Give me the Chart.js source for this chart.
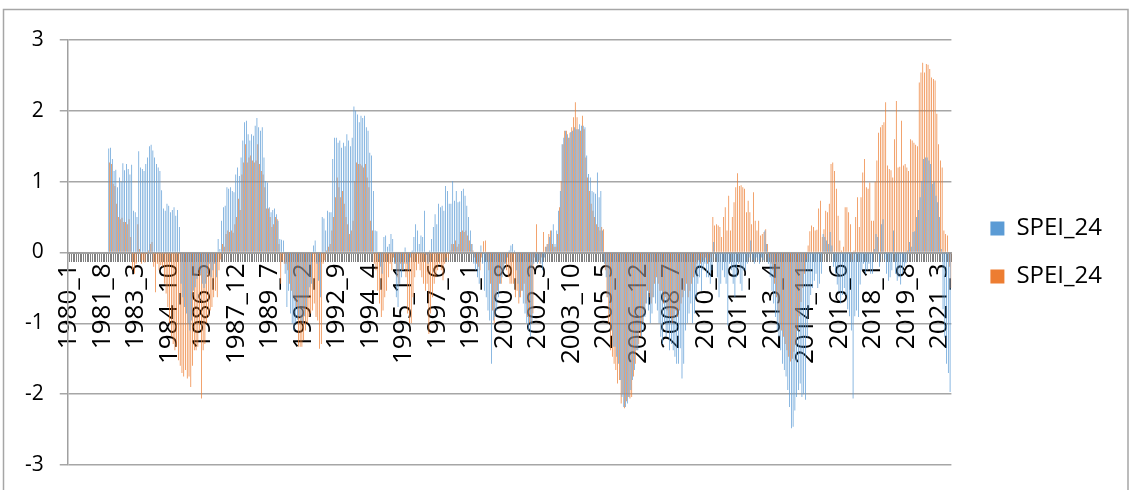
<!DOCTYPE html>
<html>
<head>
<meta charset="utf-8">
<script src="https://cdn.jsdelivr.net/npm/chart.js@4.4.1/dist/chart.umd.min.js"></script>
<style>
  html, body { margin: 0; padding: 0; background: #fff; }
  canvas { display: block; }
</style>
</head>
<body>
<canvas id="chart" width="1129" height="490"></canvas>
<script>
// monthly categories 1980_1 .. 2021_9
const firstYear = 1980;
const monthCount = 501;
const categories = [];
for (let i = 0; i < monthCount; i++) {
    categories.push((firstYear + Math.floor(i / 12)) + '_' + (i % 12 + 1));
}

// labels that are printed under the axis
const tickLabels = ['1980_1', '1981_8', '1983_3', '1984_10', '1986_5', '1987_12', '1989_7',
    '1991_2', '1992_9', '1994_4', '1995_11', '1997_6', '1999_1', '2000_8', '2002_3',
    '2003_10', '2005_5', '2006_12', '2008_7', '2010_2', '2011_9', '2013_4', '2014_11',
    '2016_6', '2018_1', '2019_8', '2021_3'];

const yTicks = [-3, -2, -1, 0, 1, 2, 3];

// first SPEI_24 series (blue), one row per year
const speiBlue = [
    null, null, null, null, null, null, null, null, null, null, null, null,
    null, null, null, null, null, null, null, null, null, null, null, 1.47,
    1.48, 1.32, 1.15, 1.17, 0.92, 1.06, 1.0, 1.26, 1.16, 1.25, 1.18, 1.1,
    1.24, 0.59, 0.57, 0.5, 1.43, 1.2, 1.18, 1.15, 1.25, 1.34, 1.5, 1.52,
    1.44, 1.34, 1.25, 1.2, 1.15, 0.88, 0.62, 0.59, 0.69, 0.66, 0.57, 0.6,
    0.64, 0.52, 0.6, 0.36, -0.44, -0.63, -0.77, -0.86, -1.0, -1.1, -0.96, -0.54,
    -0.49, -0.37, -0.25, -0.3, -0.44, -0.5, -0.44, -0.3, -0.16, -0.35, -0.25, -0.16,
    -0.35, 0.19, 0.05, 0.45, 0.64, 0.66, 0.92, 0.9, 0.92, 0.87, 0.85, 1.1,
    1.2, 1.08, 1.34, 1.58, 1.84, 1.86, 1.67, 1.58, 1.67, 1.65, 1.79, 1.9,
    1.77, 1.72, 1.77, 1.34, 1.01, 0.99, 0.64, 0.57, 0.6, 0.62, 0.54, 0.45,
    0.19, 0.18, 0.17, -0.3, -0.77, -0.54, -0.86, -1.0, -1.1, -1.0, -0.95, -0.91,
    -0.96, -1.0, -0.9, -0.77, -0.63, -0.49, -0.44, 0.1, 0.17, -0.16, -0.4, -0.63,
    0.5, 0.48, 0.31, 0.59, 0.57, 0.57, 1.32, 1.62, 1.62, 1.55, 1.58, 1.48,
    1.55, 1.5, 1.67, 1.58, 1.5, 1.62, 2.06, 2.0, 1.95, 1.84, 1.93, 1.9,
    1.93, 1.77, 1.72, 1.41, 1.37, 0.87, 0.31, 0.3, -0.1, -0.2, -0.3, 0.22,
    0.24, 0.08, 0.12, 0.26, 0.19, -0.16, -0.63, -0.77, -0.44, -0.35, -0.25, 0.07,
    -0.16, -0.25, -0.07, 0.03, 0.22, 0.4, 0.31, 0.12, 0.24, 0.22, 0.59, -0.03,
    -0.16, 0.03, 0.19, 0.36, 0.54, 0.4, 0.69, 0.64, 0.66, 0.59, 0.94, 0.87,
    0.69, 0.69, 1.01, 0.73, 0.87, 0.71, 0.72, 0.87, 0.9, 0.8, 0.66, 0.5,
    0.31, 0.12, -0.16, -0.25, -0.35, -0.44, 0.1, -0.16, -0.54, -0.63, -0.82, -0.96,
    -1.57, -0.96, -0.91, -0.82, -0.63, -0.44, -0.35, -0.25, -0.16, -0.07, 0.03, 0.1,
    0.12, 0.03, -0.25, -0.44, -0.63, -0.54, -0.72, -0.86, -1.0, -1.1, -1.19, -1.0,
    -0.16, -0.07, -0.16, -0.11, -0.16, -0.25, -0.07, 0.08, 0.12, 0.22, 0.31, 0.4,
    0.12, 0.31, 0.59, 0.87, 1.53, 1.62, 1.72, 1.67, 1.62, 1.7, 1.72, 1.77,
    1.74, 1.74, 1.81, 1.79, 1.79, 1.77, 1.37, 1.11, 1.06, 0.87, 0.85, 0.83,
    1.13, 0.78, 0.87, 0.31, -0.16, -0.35, -0.63, -0.86, -1.1, -1.33, -1.33, -1.47,
    -1.57, -1.8, -2.04, -2.18, -2.18, -2.13, -2.04, -1.94, -1.8, -1.66, -1.38, -1.38,
    -1.1, -1.19, -1.1, -0.91, -0.72, -0.82, -1.0, -0.86, -0.63, -0.72, -0.82, -1.0,
    -1.19, -1.29, -1.0, -1.19, -1.1, -1.38, -1.29, -1.38, -1.47, -1.57, -1.57, -1.35,
    -1.78, -1.57, -1.1, -1.0, -0.86, -0.72, -1.0, -0.86, -0.63, -0.44, -0.35, -0.54,
    -0.25, -0.16, -0.35, -0.35, -0.44, -0.25, 0.15, -0.07, -0.35, -0.63, -0.44, -0.25,
    -0.35, -0.44, -1.03, -0.16, -0.25, -0.44, -0.63, -0.35, -0.16, -0.44, -0.54, -0.25,
    -0.25, -0.16, -0.07, 0.17, -0.11, -0.16, -0.07, -0.11, -0.16, -0.07, -0.11, 0.31,
    0.12, -0.16, -0.35, -0.54, -0.72, -0.91, -1.1, -1.19, -1.38, -1.57, -1.66, -1.75,
    -1.94, -2.18, -2.48, -2.46, -2.23, -2.04, -1.94, -1.85, -2.04, -2.0, -2.08, -1.2,
    -0.8, -0.6, -0.5, -0.4, -0.3, -0.5, -0.44, -0.3, 0.26, 0.22, 0.17, 0.12,
    0.29, 0.1, -0.2, -0.3, -0.45, -0.55, -0.72, -0.6, -0.5, -0.6, -0.8, -0.9,
    -1.1, -2.06, -0.9, -0.82, -0.91, -0.45, -0.25, -0.16, -0.3, -0.25, -0.16, -0.3,
    -0.3, 0.05, 0.26, 0.22, -0.2, 0.4, 0.47, -0.1, -0.3, -0.4, -0.35, -0.25,
    0.31, -0.3, -0.4, -0.35, -0.45, -0.3, -0.2, -0.15, 0.03, 0.15, 0.08, 0.29,
    0.3, 0.5, 0.6, 0.78, 1.01, 1.32, 1.34, 1.34, 1.3, 1.25, 0.97, 1.0,
    0.8, 0.71, 0.5, 0.05, -0.8, -1.2, -1.57, -1.7, -1.97
];

// second SPEI_24 series (orange), one row per year
const speiOrange = [
    null, null, null, null, null, null, null, null, null, null, null, null,
    null, null, null, null, null, null, null, null, null, null, null, 1.27,
    1.25, 0.97, 0.94, 0.69, 0.5, 0.47, 0.49, 0.43, 0.43, 0.4, 0.47, 0.22,
    -0.25, -0.3, -0.16, 0.4, 0.05, -0.16, -0.11, -0.14, -0.02, 0.03, 0.12, 0.15,
    -0.2, -0.56, -0.16, -0.25, -0.18, -0.2, -0.44, -0.58, -0.77, -1.0, -1.19, -1.29,
    -1.38, -1.33, -1.52, -1.6, -1.7, -1.75, -1.66, -1.78, -1.75, -1.9, -1.6, -1.38,
    -1.38, -1.33, -1.1, -2.06, -1.38, -1.29, -1.0, -0.91, -0.82, -0.77, -0.63, -0.54,
    -0.63, -0.25, -0.1, 0.12, 0.08, 0.26, 0.31, 0.29, 0.31, 0.28, 0.4, 0.5,
    0.76, 0.6, 1.1, 1.27, 1.53, 1.27, 1.34, 1.37, 1.3, 1.27, 1.3, 1.53,
    1.25, 1.15, 1.1, 0.92, 0.62, 0.62, 0.5, 0.36, 0.4, 0.5, 0.47, 0.12,
    -0.44, -0.11, -0.16, -0.16, -0.25, -0.44, -0.54, -0.63, -0.68, -0.77, -1.33, -1.33,
    -1.33, -1.24, -1.1, -1.0, -0.91, -0.86, -0.82, -0.72, -0.91, -0.96, -1.36, -1.29,
    -0.16, -0.11, 0.03, 0.08, 0.12, 0.31, 0.5, 0.78, 1.06, 0.92, 0.78, 0.87,
    0.69, 0.5, 0.4, 0.26, 0.31, 0.45, 1.01, 1.27, 1.25, 1.25, 1.23, 1.2,
    1.25, 1.06, 0.92, 0.45, 0.31, -0.16, -0.25, -0.54, -0.72, -0.91, -0.82, -0.63,
    -0.54, -0.35, -0.16, -0.25, -0.07, -0.16, -0.35, -0.44, -0.16, -0.25, -0.16, -0.35,
    -0.86, -1.0, -1.0, -0.63, -0.35, -0.25, -0.16, -0.25, -0.35, -0.44, -0.54, -0.44,
    -1.15, -0.86, -0.63, -0.44, -0.35, -0.25, -0.16, -0.25, -0.39, -0.16, -0.07, -0.11,
    0.03, 0.12, 0.12, 0.17, 0.08, 0.12, 0.29, 0.31, 0.29, 0.31, 0.24, 0.17,
    0.12, 0.03, -0.07, -0.16, -0.2, -0.25, -0.07, 0.16, 0.17, -0.11, -0.25, -0.44,
    -0.82, -1.0, -0.63, -0.54, -0.44, -0.44, -0.25, -0.16, -0.25, -0.35, -0.44, -0.44,
    -0.44, -0.63, -0.54, -0.72, -0.63, -0.54, -0.44, -0.72, -0.91, -1.0, -1.0, -0.86,
    -0.07, 0.4, -0.02, -0.16, -0.07, 0.29, 0.08, 0.12, 0.26, 0.31, 0.12, 0.08,
    0.08, 0.26, 0.64, 1.01, 1.53, 1.72, 1.72, 1.62, 1.69, 1.77, 1.91, 2.12,
    1.91, 1.74, 1.72, 1.93, 1.74, 1.34, 1.06, 0.87, 0.69, 0.59, 0.5, 0.4,
    0.36, 0.31, 0.36, 0.33, -0.25, -0.63, -1.0, -1.38, -1.47, -1.57, -1.66, -1.85,
    -1.8, -2.13, -2.0, -2.2, -2.1, -2.04, -2.06, -2.04, -1.75, -1.57, -1.38, -1.29,
    -1.19, -1.0, -0.86, -0.72, -0.54, -0.63, -0.72, -0.63, -0.44, -0.35, -0.44, -0.54,
    -0.54, -0.72, -0.63, -0.82, -0.91, -0.91, -1.0, -0.91, -0.82, -0.91, -0.82, -0.72,
    -0.63, -0.54, -0.44, -0.63, -0.54, -0.44, -0.35, -0.25, -0.16, -0.11, -0.16, -0.07,
    -0.11, -0.07, -0.16, -0.11, -0.07, 0.5, 0.38, 0.4, 0.38, 0.36, 0.22, 0.5,
    0.64, 0.31, 0.8, 0.31, 0.5, 0.71, 0.92, 1.12, 0.94, 0.95, 0.92, 0.9,
    0.57, 0.73, 0.57, 0.4, 0.85, 0.45, 0.31, 0.45, 0.24, 0.26, 0.29, 0.33,
    0.12, -0.07, -0.16, -0.25, -0.44, -0.63, -0.82, -1.0, -1.1, -1.19, -1.29, -1.38,
    -1.47, -1.54, -1.5, -1.4, -1.3, -1.1, -0.9, -0.7, -0.5, -0.3, -0.1, 0.1,
    0.3, 0.38, 0.36, 0.31, 0.32, 0.62, 0.73, 0.22, 0.33, 0.59, 0.57, 0.69,
    1.25, 1.27, 1.15, 0.9, 0.52, 0.17, 0.03, 0.08, 0.64, 0.64, 0.57, 0.4,
    -0.1, 0.03, 0.5, 0.78, 0.36, 0.78, 1.13, 1.32, 0.92, 0.9, 0.99, 0.45,
    0.45, 1.0, 1.3, 1.69, 1.77, 1.8, 1.84, 2.12, 1.23, 1.18, 1.16, 1.06,
    1.6, 2.14, 1.2, 1.21, 1.86, 1.23, 1.25, 1.2, 1.15, 1.6, 1.58, 1.55,
    1.52, 1.5, 2.4, 2.54, 2.68, 2.54, 2.66, 2.65, 2.59, 2.47, 2.45, 2.43,
    1.96, 1.53, 1.3, 1.2, 0.31, 0.26, 0.24, -0.2, -0.5
];

const FONT = '"Open Sans", Lato, sans-serif';

// white page with the thin grey frame of the chart area
const frame = {
    id: 'frame',
    beforeDraw(chart) {
        const ctx = chart.ctx;
        ctx.save();
        ctx.fillStyle = '#fff';
        ctx.fillRect(0, 0, chart.width, chart.height);
        ctx.strokeStyle = '#a6a6a6';
        ctx.lineWidth = 1.5;
        ctx.strokeRect(3.5, 9.5, chart.width - 4.5, chart.height);
        ctx.restore();
    }
};

// leave a wider gap between the plot and the legend than labels.padding gives
const legendGap = {
    id: 'legendGap',
    afterLayout(chart) {
        chart.legend.left += 15;
        chart.legend.right += 15;
    }
};

new Chart(document.getElementById('chart'), {
    type: 'bar',
    data: {
        labels: categories,
        datasets: [
            { label: 'SPEI_24', data: speiBlue, backgroundColor: '#5B9BD5' },
            { label: 'SPEI_24', data: speiOrange, backgroundColor: '#ED7D31' }
        ]
    },
    options: {
        responsive: false,
        animation: false,
        events: [],
        layout: { padding: { left: 9, top: 40, right: 32, bottom: 25 } },
        datasets: { bar: { categoryPercentage: 1, barPercentage: 0.8 } },
        plugins: {
            tooltip: { enabled: false },
            legend: {
                position: 'right',
                labels: {
                    boxWidth: 14,
                    boxHeight: 14,
                    padding: 24,
                    color: '#000',
                    font: { family: FONT, size: 24 }
                }
            }
        },
        scales: {
            x: {
                position: { y: 0 },
                offset: true,
                afterFit: (scale) => { scale.paddingBottom = 0; },
                grid: { drawOnChartArea: false, tickLength: 8, color: '#808080', offset: true },
                border: { color: '#a0a0a0', width: 2 },
                ticks: {
                    autoSkip: false,
                    minRotation: 90,
                    maxRotation: 90,
                    padding: 3,
                    color: '#000',
                    font: { family: FONT, size: 26 },
                    callback: function (value) {
                        const lab = this.getLabelForValue(value);
                        return tickLabels.includes(lab) ? lab : '';
                    }
                }
            },
            y: {
                min: yTicks[0],
                max: yTicks[yTicks.length - 1],
                afterFit: (scale) => { scale.paddingBottom = 0; },
                afterBuildTicks: (scale) => { scale.ticks = yTicks.map(v => ({ value: v })); },
                grid: { color: '#a6a6a6', lineWidth: 1.5, tickLength: 8 },
                border: { color: '#a0a0a0', width: 1.5 },
                ticks: { padding: 16, color: '#000', font: { family: FONT, size: 21 } }
            }
        }
    },
    plugins: [frame, legendGap]
});
</script>
</body>
</html>
